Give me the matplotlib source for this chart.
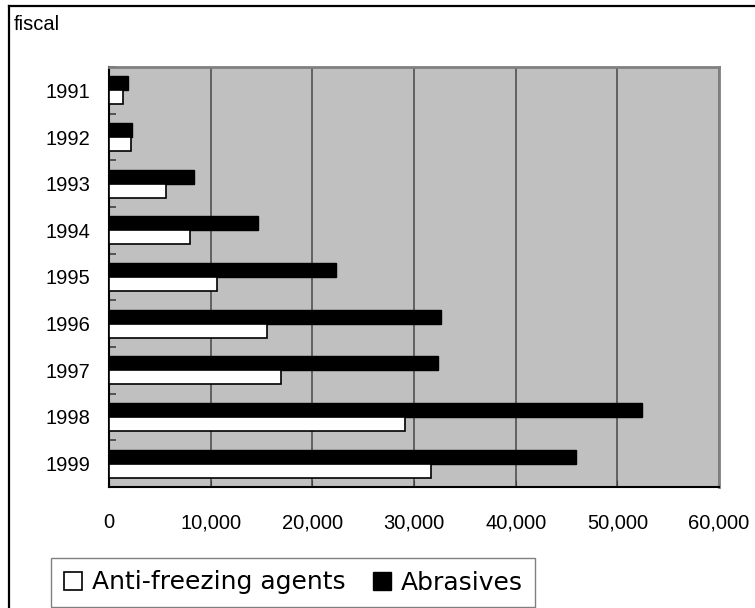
import numpy as np
import matplotlib
matplotlib.use("Agg")
import matplotlib.pyplot as plt
from matplotlib.lines import Line2D
from matplotlib.ticker import FuncFormatter, FixedLocator

# Data (fiscal years, quantities)
years = ["1991", "1992", "1993", "1994", "1995", "1996", "1997", "1998", "1999"]
anti_freezing = [1400, 2150, 5570, 7930, 10650, 15540, 16940, 29140, 31700]
abrasives = [1870, 2220, 8360, 14650, 22320, 32700, 32350, 52410, 45920]
x_ticks = [0, 10000, 20000, 30000, 40000, 50000, 60000]
series_names = ["Anti-freezing agents", "Abrasives"]

W, H = 755, 608
fig = plt.figure(figsize=(W / 100, H / 100), dpi=100)
fig.patch.set_facecolor("white")

ax = fig.add_axes([109 / W, (H - 487) / H, (719 - 109) / W, (487 - 67) / H])
ax.set_facecolor("#C0C0C0")

n = len(years)
pos = np.arange(n)
bar_h = 0.3

ax.barh(pos - bar_h / 2, abrasives, height=bar_h, color="black",
        edgecolor="black", linewidth=1.0, zorder=3, label=series_names[1])
ax.barh(pos + bar_h / 2, anti_freezing, height=bar_h, color="white",
        edgecolor="black", linewidth=1.2, zorder=3, label=series_names[0])

ax.set_ylim(n - 0.5, -0.5)
ax.set_xlim(x_ticks[0], x_ticks[-1])

# y axis: category labels, tick marks between categories
ax.yaxis.set_major_locator(FixedLocator(pos))
ax.set_yticklabels(years, fontsize=14.5, family="Liberation Sans")
ax.yaxis.set_minor_locator(FixedLocator(np.arange(n + 1) - 0.5))
ax.tick_params(axis="y", which="major", length=0, pad=13.5)
ax.tick_params(axis="y", which="minor", length=5, width=1.2, direction="in",
               color="#404040")

# x axis
ax.xaxis.set_major_locator(FixedLocator(x_ticks))
ax.xaxis.set_major_formatter(FuncFormatter(lambda v, p: f"{int(v):,}"))
ax.tick_params(axis="x", which="major", length=5, direction="in", pad=19,
               labelsize=14.5, color="#404040")
for lbl in ax.get_xticklabels():
    lbl.set_family("Liberation Sans")

ax.grid(axis="x", color="#5a5a5a", linewidth=1.3, zorder=1)
ax.set_axisbelow(True)

for side in ("left", "bottom"):
    ax.spines[side].set_color("black")
    ax.spines[side].set_linewidth(1.5)
for side in ("top", "right"):
    ax.spines[side].set_color("#808080")
    ax.spines[side].set_linewidth(2.0)

# axis caption
fig.text(14 / W, 1 - 25 / H, "fiscal", fontsize=14.5, family="Liberation Sans",
         va="center", ha="left")

# legend
handles, labels = ax.get_legend_handles_labels()
order = [1, 0]
leg = fig.legend([handles[i] for i in order], [labels[i] for i in order],
                 loc="lower left", bbox_to_anchor=(51 / W, 1 / H),
                 ncol=2, frameon=True, fancybox=False,
                 prop={"family": "DejaVu Sans", "size": 18},
                 handlelength=0.72, handleheight=0.72, handletextpad=0.4,
                 columnspacing=1.1, borderpad=0.5, borderaxespad=0)
leg.get_frame().set_edgecolor("#606060")
leg.get_frame().set_linewidth(1.0)

# chart border
fig.add_artist(Line2D([9 / W, 9 / W], [0, 1 - 6 / H], transform=fig.transFigure,
                      color="black", linewidth=1.6))
fig.add_artist(Line2D([9 / W, 1], [1 - 6 / H, 1 - 6 / H], transform=fig.transFigure,
                      color="black", linewidth=1.6))

fig.savefig("out.png", dpi=100)
